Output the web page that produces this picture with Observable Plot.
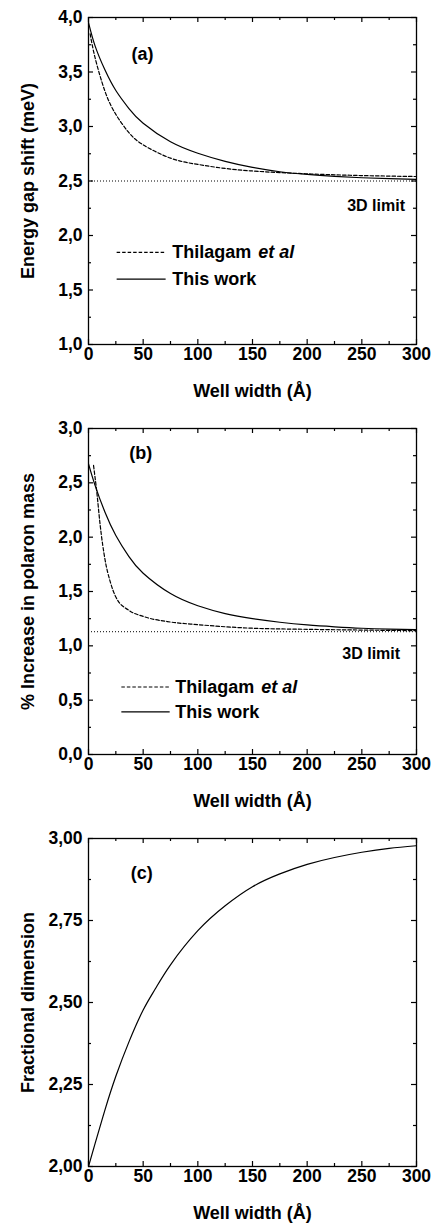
<!DOCTYPE html>
<html>
<head>
<meta charset="utf-8">
<script src="https://cdn.jsdelivr.net/npm/d3@7"></script>
<script src="https://cdn.jsdelivr.net/npm/@observablehq/plot@0.6"></script>
<style>
  html, body { margin: 0; padding: 0; background: #fff; }
  #chart { width: 434px; }
  #chart svg { display: block; }
</style>
</head>
<body>
<div id="chart"></div>
<script>
// ---------- data ----------
const xTicks = [0, 50, 100, 150, 200, 250, 300];
const xMinorTicks = [25, 75, 125, 175, 225, 275];
const xTitle = "Well width (Å)";

// Panel (a): energy gap shift (meV)
const aTicks = [1.0, 1.5, 2.0, 2.5, 3.0, 3.5, 4.0];
const aMinor = [1.25, 1.75, 2.25, 2.75, 3.25, 3.75];
const aThisX = [0, 6, 15, 25, 37, 50, 75, 100, 125, 150, 175, 200, 225, 250, 275, 300];
const aThisY = [3.954, 3.74, 3.52, 3.33, 3.165, 3.03, 2.86, 2.755, 2.68, 2.625, 2.585, 2.56, 2.543, 2.53, 2.521, 2.515];
const aThilX = [1.5, 6, 15, 25, 37, 50, 75, 100, 125, 150, 175, 200, 225, 250, 275, 300];
const aThilY = [3.85, 3.632, 3.325, 3.111, 2.943, 2.832, 2.71, 2.652, 2.615, 2.592, 2.577, 2.566, 2.557, 2.55, 2.545, 2.541];
const aLimit = 2.5;

// Panel (b): % increase in polaron mass
const bTicks = [0.0, 0.5, 1.0, 1.5, 2.0, 2.5, 3.0];
const bMinor = [0.25, 0.75, 1.25, 1.75, 2.25, 2.75];
const bThisX = [0, 6, 15, 25, 37, 50, 75, 100, 125, 150, 175, 200, 225, 250, 275, 300];
const bThisY = [2.675, 2.477, 2.232, 2.016, 1.821, 1.668, 1.481, 1.369, 1.297, 1.251, 1.217, 1.192, 1.175, 1.162, 1.154, 1.149];
const bThilX = [4.6, 7.6, 10.7, 15, 20, 25, 37, 50, 75, 100, 150, 200, 250, 300];
const bThilY = [2.66, 2.414, 2.108, 1.80, 1.586, 1.449, 1.326, 1.271, 1.219, 1.195, 1.162, 1.152, 1.145, 1.14];
const bLimit = 1.13;

// Panel (c): fractional dimension
const cTicks = [2.0, 2.25, 2.5, 2.75, 3.0];
const cMinor = [2.125, 2.375, 2.625, 2.875];
const cX = [0, 6, 15, 25, 37, 50, 61, 75, 100, 125, 150, 175, 200, 225, 250, 275, 300];
const cY = [2.0, 2.07, 2.172, 2.275, 2.38, 2.477, 2.541, 2.615, 2.719, 2.795, 2.853, 2.892, 2.921, 2.942, 2.958, 2.970, 2.978];

const seriesNames = ["Thilagam ", "et al", "This work"];
const limitText = "3D limit";

// ---------- helpers ----------
const FONT = "Liberation Sans, Arial, Helvetica, sans-serif";
const W = 434, ML = 88, MR = 18;
const comma = (f) => (d) => d3.format(f)(d).replace(".", ",");
const zip = (xs, ys) => xs.map((x, i) => ({x, y: ys[i]}));

function panel(cfg) {
  const plotH = cfg.height - cfg.marginTop - cfg.marginBottom;
  const plotW = W - ML - MR;
  const marks = [];
  marks.push(Plot.frame({stroke: "black", strokeWidth: 1.3}));
  const major = 5, minor = 3;
  marks.push(Plot.tickX(xTicks, {x: d => d, insetTop: plotH - major, strokeWidth: 1.2}));
  marks.push(Plot.tickX(xTicks, {x: d => d, insetBottom: plotH - major, strokeWidth: 1.2}));
  marks.push(Plot.tickX(xMinorTicks, {x: d => d, insetTop: plotH - minor, strokeWidth: 1.2}));
  marks.push(Plot.tickX(xMinorTicks, {x: d => d, insetBottom: plotH - minor, strokeWidth: 1.2}));
  marks.push(Plot.tickY(cfg.yTicks, {y: d => d, insetRight: plotW - major, strokeWidth: 1.2}));
  marks.push(Plot.tickY(cfg.yTicks, {y: d => d, insetLeft: plotW - major, strokeWidth: 1.2}));
  marks.push(Plot.tickY(cfg.yMinor, {y: d => d, insetRight: plotW - minor, strokeWidth: 1.2}));
  marks.push(Plot.tickY(cfg.yMinor, {y: d => d, insetLeft: plotW - minor, strokeWidth: 1.2}));
  marks.push(Plot.axisX(xTicks, {tickSize: 0, tickPadding: 3, label: null, fontSize: 17.5, fontWeight: "bold", tickFormat: d => String(d)}));
  marks.push(Plot.axisY(cfg.yTicks, {tickSize: 0, tickPadding: 6, label: null, fontSize: 17.5, fontWeight: "bold", tickFormat: cfg.yFmt}));
  marks.push(Plot.text([xTitle], {frameAnchor: "bottom", dy: 47, fontSize: 18, fontWeight: "bold", lineAnchor: "middle"}));
  marks.push(Plot.text([cfg.yLabel], {frameAnchor: "left", rotate: -90, dx: -60, textAnchor: "middle", fontSize: 18, fontWeight: "bold", lineAnchor: "middle"}));
  marks.push(Plot.text([cfg.tag], {x: () => cfg.tagPos[0], y: () => cfg.tagPos[1], fontSize: 18, fontWeight: "bold"}));
  if (cfg.limit != null) {
    marks.push(Plot.ruleY([cfg.limit], {strokeDasharray: "1,2", strokeWidth: 1}));
    marks.push(Plot.text([limitText], {x: () => cfg.limitPos[0], y: () => cfg.limitPos[1], textAnchor: "end", fontSize: 16, fontWeight: "bold"}));
  }
  for (const s of cfg.series) {
    marks.push(Plot.line(s.data, {x: "x", y: "y", curve: s.curve, stroke: "black", strokeWidth: 1.2, strokeDasharray: s.dash, clip: true}));
  }
  if (cfg.legend) {
    const L = cfg.legend;
    marks.push(Plot.ruleY([L.y1], {x1: L.x1, x2: L.x2, strokeDasharray: "3.5,2", strokeWidth: 1.2}));
    marks.push(Plot.ruleY([L.y2], {x1: L.x1, x2: L.x2, strokeWidth: 1.2}));
    marks.push(Plot.text([seriesNames[0]], {x: () => L.xt, y: () => L.y1, textAnchor: "start", fontSize: 18, fontWeight: "bold"}));
    marks.push(Plot.text([seriesNames[1]], {x: () => L.xt, y: () => L.y1, dx: 86, textAnchor: "start", fontSize: 18, fontWeight: "bold", fontStyle: "italic"}));
    marks.push(Plot.text([seriesNames[2]], {x: () => L.xt, y: () => L.y2, textAnchor: "start", fontSize: 18, fontWeight: "bold"}));
  }
  return Plot.plot({
    width: W,
    height: cfg.height,
    marginLeft: ML,
    marginRight: MR,
    marginTop: cfg.marginTop,
    marginBottom: cfg.marginBottom,
    x: {domain: [0, 300], axis: null},
    y: {domain: cfg.yDomain, axis: null},
    style: {fontFamily: FONT, fontSize: "17px", color: "black", background: "white", overflow: "visible"},
    marks
  });
}

const chart = document.getElementById("chart");

chart.append(panel({
  height: 410, marginTop: 17, marginBottom: 66,
  yDomain: [1, 4], yTicks: aTicks, yMinor: aMinor, yFmt: comma(".1f"),
  yLabel: "Energy gap shift (meV)",
  tag: "(a)", tagPos: [49.5, 3.66],
  limit: aLimit, limitPos: [289.5, 2.275],
  series: [
    {data: zip(aThilX, aThilY), dash: "3.5,2", curve: "natural"},
    {data: zip(aThisX, aThisY), dash: null, curve: "natural"}
  ],
  legend: {x1: 26.2, x2: 71, xt: 76.5, y1: 1.846, y2: 1.60}
}));

chart.append(panel({
  height: 410, marginTop: 18, marginBottom: 66,
  yDomain: [0, 3], yTicks: bTicks, yMinor: bMinor, yFmt: comma(".1f"),
  yLabel: "% Increase in polaron mass",
  tag: "(b)", tagPos: [47.7, 2.774],
  limit: bLimit, limitPos: [285, 0.925],
  series: [
    {data: zip(bThilX, bThilY), dash: "3.5,2", curve: "monotone-x"},
    {data: zip(bThisX, bThisY), dash: null, curve: "natural"}
  ],
  legend: {x1: 30.5, x2: 74.7, xt: 79.3, y1: 0.621, y2: 0.392}
}));

chart.append(panel({
  height: 405, marginTop: 18, marginBottom: 59,
  yDomain: [2, 3], yTicks: cTicks, yMinor: cMinor, yFmt: comma(".2f"),
  yLabel: "Fractional dimension",
  tag: "(c)", tagPos: [48.8, 2.894],
  limit: null,
  series: [
    {data: zip(cX, cY), dash: null, curve: "natural"}
  ],
  legend: null
}));
</script>
</body>
</html>
